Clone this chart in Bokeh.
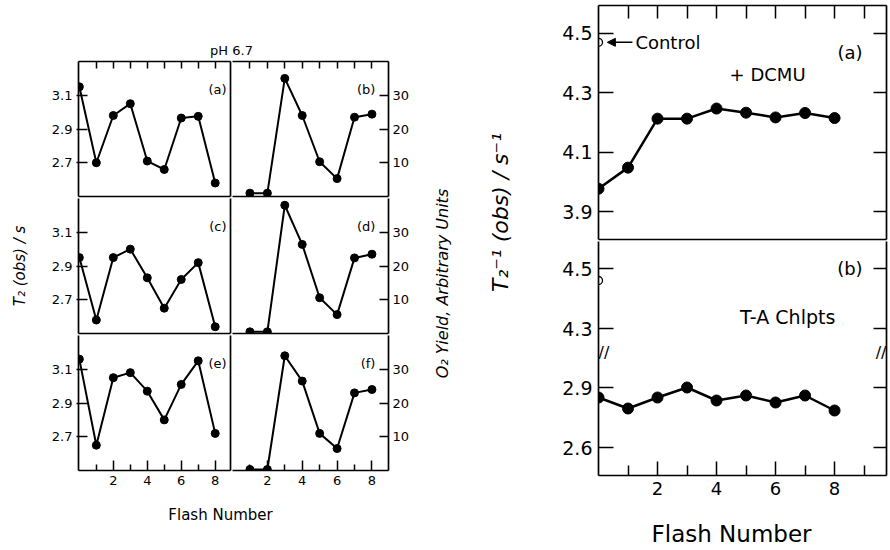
import math
from bokeh.plotting import figure
from bokeh.models import Range1d, LinearAxis, FixedTicker, Label, Arrow, NormalHead
from bokeh.layouts import row, column
from bokeh.embed import file_html
from bokeh.resources import INLINE

FONT = "DejaVu Sans"

# ---------------- data: left chart (pH 6.7) ----------------
flash_t2 = [0, 1, 2, 3, 4, 5, 6, 7, 8]
t2_a = [3.15, 2.70, 2.98, 3.05, 2.71, 2.66, 2.965, 2.975, 2.58]
t2_c = [2.95, 2.58, 2.95, 3.00, 2.83, 2.65, 2.82, 2.92, 2.54]
t2_e = [3.16, 2.65, 3.05, 3.08, 2.97, 2.80, 3.01, 3.15, 2.72]
flash_o2 = [1, 2, 3, 4, 5, 6, 7, 8]
o2_b = [1.0, 1.0, 35.0, 24.0, 10.3, 5.3, 23.5, 24.4]
o2_d = [0.5, 0.5, 38.0, 26.4, 10.6, 5.6, 22.4, 23.5]
o2_f = [0.3, 0.3, 34.0, 26.5, 11.0, 6.5, 23.0, 24.0]
t2_ticks = [2.7, 2.9, 3.1]
o2_ticks = [10, 20, 30]
flash_major = [2, 4, 6, 8]
flash_minor_left = [1, 3, 5, 7]
flash_top_left = [1, 2, 3, 4, 5, 6, 7, 8]
panel_names = ["(a)", "(b)", "(c)", "(d)", "(e)", "(f)"]

# ---------------- data: right chart ----------------
flash_r = [0, 1, 2, 3, 4, 5, 6, 7, 8]
rate_dcmu = [3.977, 4.048, 4.213, 4.213, 4.247, 4.233, 4.217, 4.232, 4.215]
rate_ta = [2.85, 2.795, 2.85, 2.90, 2.835, 2.86, 2.825, 2.86, 2.785]
control_flash = [0]
control_a = [4.47]
control_b = [4.46]
rate_ticks_a = [3.9, 4.1, 4.3, 4.5]
rate_ticks_b_low = [2.6, 2.9]
rate_ticks_b_high = [4.3, 4.5]
flash_minor_right = [1, 3, 5, 7, 9]
flash_top_right = [1, 2, 3, 4, 5, 6, 7, 8, 9]

# ranges
XL = (-0.05, 8.9)
XR = (0, 8.95)
T2R = (2.5, 3.3)
O2R = (0, 40)
XRR = (0, 9.76)
RA = (3.806, 4.594)
LOW = (2.46, 3.63)
HIGH = (3.81, 4.59)
BREAK_Y = 3.075

LW_BORDER = 1.7


def high_to_low(v):
    return round(LOW[0] + (v - HIGH[0]) * (LOW[1] - LOW[0]) / (HIGH[1] - HIGH[0]), 4)


def panel(fw, fh, xr, yr, bl=0, br=0, bt=0, bb=0):
    p = figure(frame_width=fw, frame_height=fh, x_range=Range1d(*xr), y_range=Range1d(*yr),
               x_axis_location=None, y_axis_location=None, toolbar_location=None,
               output_backend="svg", min_border_left=bl, min_border_right=br,
               min_border_top=bt, min_border_bottom=bb)
    p.grid.visible = False
    p.outline_line_color = None
    p.background_fill_color = "white"
    p.border_fill_color = "white"
    return p


def blank(w, h, bl=0, br=0):
    p = figure(frame_width=w, frame_height=h, x_range=Range1d(0, w), y_range=Range1d(0, h),
               x_axis_location=None, y_axis_location=None, toolbar_location=None,
               output_backend="svg", min_border=0, min_border_left=bl, min_border_right=br)
    p.grid.visible = False
    p.outline_line_color = None
    p.border_fill_color = "white"
    p.background_fill_color = "white"
    return p


def axis(p, side, ticks=(), minor=(), tin=0, tout=0, minin=0, labels=False, fs="13px",
         standoff=4, overrides=None):
    ax = LinearAxis(ticker=FixedTicker(ticks=list(ticks), minor_ticks=list(minor)))
    ax.axis_line_color = "black"
    ax.axis_line_width = LW_BORDER
    ax.major_tick_in = tin
    ax.major_tick_out = tout
    ax.minor_tick_in = minin
    ax.minor_tick_out = 0
    ax.major_tick_line_color = "black"
    ax.minor_tick_line_color = "black"
    ax.major_tick_line_width = 1.5
    ax.minor_tick_line_width = 1.5
    if labels:
        ax.major_label_text_font = FONT
        ax.major_label_text_font_size = fs
        ax.major_label_text_color = "black"
        ax.major_label_standoff = standoff
        if overrides:
            ax.major_label_overrides = overrides
    else:
        ax.major_label_text_color = None
        ax.major_label_text_font_size = "1px"
        ax.major_label_standoff = 0
    p.add_layout(ax, side)
    return ax


def txt(p, x, y, s, size, align="left", baseline="middle", angle=0.0, style="normal",
        y_range_name="default"):
    p.add_layout(Label(x=x, y=y, text=s, text_font=FONT, text_font_size=size,
                       text_align=align, text_baseline=baseline, angle=angle,
                       text_font_style=style, text_color="black",
                       y_range_name=y_range_name))


def series(p, xs, ys, size, lw):
    p.line(xs, ys, line_color="black", line_width=lw)
    p.scatter(xs, ys, size=size, fill_color="black", line_color="black")


# ---------------- left chart ----------------
FH = 135
pa = panel(152, FH, XL, T2R, bl=78, br=2, bt=2, bb=2)
pb = panel(156, FH, XR, O2R, br=28, bt=2, bb=2)
pc = panel(152, FH, XL, T2R, bl=78, br=2, bb=2)
pd = panel(156, FH, XR, O2R, br=28, bb=2)
pe = panel(152, FH, XL, T2R, bl=78, br=2, bb=24)
pf = panel(156, FH, XR, O2R, br=28, bb=24)

for p, ys in ((pa, t2_a), (pc, t2_c), (pe, t2_e)):
    series(p, flash_t2, ys, 8, 2)
    axis(p, "left", t2_ticks, tin=9, tout=2, labels=True, fs="13px", standoff=4)
    axis(p, "right")
for p, ys in ((pb, o2_b), (pd, o2_d), (pf, o2_f)):
    series(p, flash_o2, ys, 8, 2)
    axis(p, "right", o2_ticks, tin=9, tout=0, labels=True, fs="13px", standoff=4)

for p in (pa, pb):
    axis(p, "above", flash_top_left, tin=7)
for p in (pa, pb, pc, pd):
    axis(p, "below")
for p in (pe, pf):
    axis(p, "below", flash_major, minor=flash_minor_left, tin=10, minin=6,
         labels=True, fs="13px", standoff=5)

# y label on left column
ylab_ax = pc.left[0]
ylab_ax.axis_label = "T\u2082 (obs) / s"
ylab_ax.axis_label_text_font = FONT
ylab_ax.axis_label_text_font_size = "15px"
ylab_ax.axis_label_text_font_style = "italic"
ylab_ax.axis_label_text_color = "black"
ylab_ax.axis_label_standoff = 20

for p, name in zip((pa, pb, pc, pd, pe, pf), panel_names):
    if p in (pa, pc, pe):
        txt(p, 8.67, 3.134, name, "13px", align="right")
    else:
        txt(p, 8.2, 31.8, name, "13px", align="right")

INNER_W = 78 + 152 + 2 + 156 + 28
title_fig = blank(INNER_W, 59)
txt(title_fig, 231, 9, "pH 6.7", "13px", align="center")
xlab_fig = blank(INNER_W, 40)
txt(xlab_fig, 220, 20, "Flash Number", "15px", align="center")
LEFT_H = 59 + (2 + FH + 2) + (FH + 2) + (FH + 24) + 40
o2_fig = blank(44, LEFT_H)
txt(o2_fig, 26, LEFT_H - 283, "O\u2082 Yield, Arbitrary Units", "16px", align="center",
    angle=math.pi / 2, style="italic")

left_block = row(column(title_fig, row(pa, pb), row(pc, pd), row(pe, pf), xlab_fig), o2_fig)

# ---------------- right chart ----------------
RFH = 234
RBB = 30
RXL_H = 44
ra = panel(288, RFH, XRR, RA, bl=78, br=2, bt=5, bb=2)
rb = panel(288, RFH, XRR, LOW, bl=78, br=2, bb=RBB)
rb.extra_y_ranges = {"high": Range1d(*HIGH)}

series(ra, flash_r, rate_dcmu, 11, 2.5)
ra.scatter(control_flash, control_a, size=8, fill_color="white", line_color="black",
           line_width=1.3)
series(rb, flash_r, rate_ta, 11, 2.5)
rb.scatter(control_flash, control_b, size=8, fill_color="white", line_color="black",
           line_width=1.3, y_range_name="high")

axis(ra, "left", rate_ticks_a, tin=15, labels=True, fs="19px", standoff=6)
axis(ra, "right", rate_ticks_a, tin=13)
axis(ra, "above", flash_top_right, tin=13)
axis(ra, "below")

b_ticks = rate_ticks_b_low + [high_to_low(v) for v in rate_ticks_b_high]
b_labels = {t: s for t, s in zip(b_ticks, [str(v) for v in rate_ticks_b_low + rate_ticks_b_high])}
axis(rb, "left", b_ticks, tin=15, labels=True, fs="19px", standoff=6, overrides=b_labels)
axis(rb, "right", b_ticks, tin=13)
axis(rb, "below", flash_major, minor=flash_minor_right, tin=14, minin=10,
     labels=True, fs="18px", standoff=6)

txt(ra, 8.95, 4.436, "(a)", "18px", align="right")
txt(ra, 5.73, 4.36, "+ DCMU", "18px", align="center")
txt(ra, 1.25, 4.47, "Control", "18px", align="left")
ra.add_layout(Arrow(end=NormalHead(size=8, fill_color="black", line_color="black"),
                    x_start=1.15, y_start=4.47, x_end=0.3, y_end=4.47,
                    line_color="black", line_width=1.5))

txt(rb, 8.95, 4.5, "(b)", "18px", align="right", y_range_name="high")
txt(rb, 6.41, 4.337, "T-A Chlpts", "19px", align="center", y_range_name="high")
txt(rb, XRR[0], BREAK_Y, "//", "16px", align="left")
txt(rb, XRR[1], BREAK_Y, "//", "16px", align="right")

# x label below the right chart: same left border as the panels, so its frame aligns
xlab_r = blank(290, RXL_H, bl=78)
txt(xlab_r, 133, 16, "Flash Number", "23px", align="center")

RIGHT_H = 5 + RFH + 2 + RFH + RBB + RXL_H
ylab_r = blank(60, RIGHT_H)
txt(ylab_r, 40, RIGHT_H - 212, "T\u2082\u207b\u00b9 (obs) / s\u207b\u00b9", "22px",
    align="center", angle=math.pi / 2, style="italic")

right_block = row(ylab_r, column(ra, rb, xlab_r))

layout = row(left_block, right_block)

open("out.html", "w").write(file_html(layout, INLINE))
